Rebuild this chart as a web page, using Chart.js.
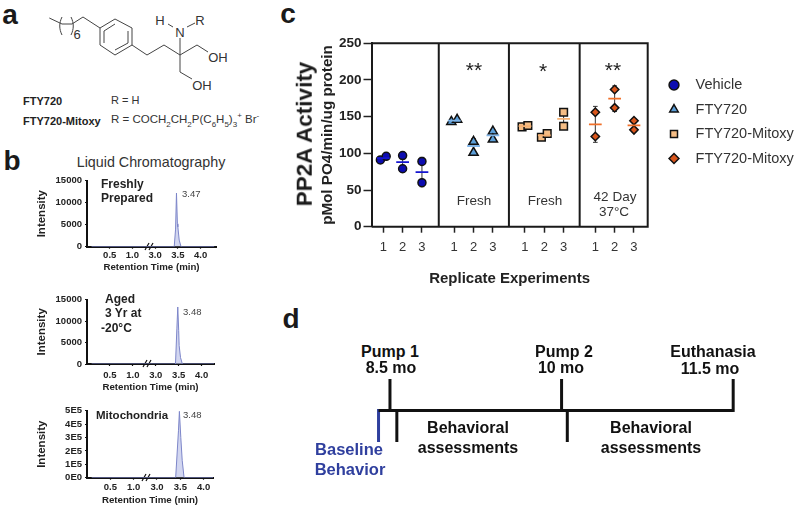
<!DOCTYPE html>
<html>
<head>
<meta charset="utf-8">
<script src="https://cdn.jsdelivr.net/npm/chart.js@4"></script>
<style>
  html, body { margin: 0; padding: 0; background: #fff; }
  #page { position: relative; width: 800px; height: 509px; overflow: hidden; font-family: "Liberation Sans", Arial, sans-serif; color: #222; }
  #page canvas { position: absolute; }
  #page svg { position: absolute; left: 0; top: 0; }
  .t { position: absolute; white-space: nowrap; transform: translate(-50%, -50%); line-height: 1; }
  .l { position: absolute; white-space: nowrap; transform: translateY(-50%); line-height: 1; }
  .b { font-weight: bold; }
  .panel { font-weight: bold; font-size: 28px; color: #1a1a1a; }
  .rot { transform: translate(-50%, -50%) rotate(-90deg); }
  .mini { font-weight: bold; font-size: 11.5px; }
  .peak { font-size: 9.5px; color: #444; }
  .time { font-weight: bold; font-size: 16px; color: #111; }
  .base { color: #2f3f9e; }
  .note { font-size: 13.5px; color: #333; }
  .star { font-size: 21px; color: #222; }
  .chem { font-size: 13px; color: #333; }
  sub, sup { font-size: 8px; line-height: 0; }
</style>
</head>
<body>
<div id="page">
  <div class="t panel" style="left:10px;top:15px">a</div>
  <div class="t panel" style="left:12px;top:161px">b</div>
  <div class="t panel" style="left:288px;top:14px">c</div>
  <div class="t panel" style="left:291px;top:319px">d</div>

  <svg width="260" height="509" fill="none">
    <g stroke="#444" stroke-width="1">
      <path d="M49.3 18L62 24L72 24L83 17L100 28M100 28L115 19L132 28V45L115 55L100 45Z"/>
      <path d="M104 31L115 24M128 31V43M115 50L128 43M104 31V43"/>
      <path d="M132 45L147 55L164 45L180 55L197 45L208 52M180 55V38M180 55V72L192 79M168 24L173 27M187 27L195 23"/>
      <path d="M62 17C59 23 59 29 62 35M71 17C74 23 74 29 71 35"/>
    </g>
    <g stroke="#111" stroke-width="1.2">
      <path d="M145 250L149 243M149 250L153 243"/>
      <path d="M143 367L147 360M147 367L151 360"/>
      <path d="M142 481L146 474M146 481L150 474"/>
    </g>
  </svg>
  <div class="t" style="left:77px;top:34px;font-size:13px;color:#333">6</div>
  <div class="t chem" style="left:160px;top:20px">H</div>
  <div class="t chem" style="left:180px;top:32px">N</div>
  <div class="t chem" style="left:200px;top:20px">R</div>
  <div class="t chem" style="left:218px;top:57px">OH</div>
  <div class="t chem" style="left:202px;top:85px">OH</div>
  <div class="l b" style="left:23px;top:101px;font-size:11px">FTY720</div>
  <div class="l" style="left:111px;top:100px;font-size:11px;color:#333">R = H</div>
  <div class="l b" style="left:23px;top:121px;font-size:11px">FTY720-Mitoxy</div>
  <div class="l" style="left:111px;top:120px;font-size:11.5px;color:#333">R = COCH<sub>2</sub>CH<sub>2</sub>P(C<sub>6</sub>H<sub>5</sub>)<sub>3</sub><sup>+</sup> Br<sup>-</sup></div>

  <div class="t" style="left:151px;top:162px;font-size:14.3px;color:#333">Liquid Chromatography</div>

  <canvas id="lcFresh" width="205" height="103" style="left:29px;top:172px;width:205px;height:103px"></canvas>
  <canvas id="lcAged" width="205" height="104" style="left:29px;top:291px;width:205px;height:104px"></canvas>
  <canvas id="lcMito" width="205" height="106" style="left:29px;top:402px;width:205px;height:106px"></canvas>

  <div class="l mini" style="left:101px;top:184px;font-size:12px">Freshly</div>
  <div class="l mini" style="left:101px;top:198px;font-size:12px">Prepared</div>
  <div class="l mini" style="left:105px;top:299px;font-size:12px">Aged</div>
  <div class="l mini" style="left:105px;top:313px;font-size:12px">3 Yr at</div>
  <div class="l mini" style="left:101px;top:328px;font-size:12px">-20°C</div>
  <div class="l mini" style="left:96px;top:416px">Mitochondria</div>
  <div class="l peak" style="left:182px;top:194px">3.47</div>
  <div class="l peak" style="left:183px;top:312px">3.48</div>
  <div class="l peak" style="left:183px;top:415px">3.48</div>

  <canvas id="pp2a" width="520" height="265" style="left:280px;top:30px;width:520px;height:265px"></canvas>
  <div class="t b rot" style="left:305px;top:134px;font-size:22.5px;color:#1a1a1a">PP2A Activity</div>
  <div class="t star" style="left:474px;top:69px">**</div>
  <div class="t star" style="left:543px;top:70px">*</div>
  <div class="t star" style="left:613px;top:69px">**</div>
  <div class="t note" style="left:474px;top:201px">Fresh</div>
  <div class="t note" style="left:545px;top:201px">Fresh</div>
  <div class="t note" style="left:615px;top:197px">42 Day</div>
  <div class="t note" style="left:614px;top:212px">37°C</div>

  <canvas id="timeline" width="390" height="80" style="left:360px;top:370px;width:390px;height:80px"></canvas>
  <div class="t time" style="left:390px;top:352px">Pump 1</div>
  <div class="t time" style="left:391px;top:368px">8.5 mo</div>
  <div class="t time" style="left:564px;top:352px">Pump 2</div>
  <div class="t time" style="left:561px;top:368px">10 mo</div>
  <div class="t time" style="left:713px;top:352px">Euthanasia</div>
  <div class="t time" style="left:710px;top:369px">11.5 mo</div>
  <div class="t time" style="left:468px;top:428px">Behavioral</div>
  <div class="t time" style="left:468px;top:448px">assessments</div>
  <div class="t time" style="left:651px;top:428px">Behavioral</div>
  <div class="t time" style="left:651px;top:448px">assessments</div>
  <div class="t time base" style="left:349px;top:449px;font-size:16.5px">Baseline</div>
  <div class="t time base" style="left:350px;top:469px;font-size:16.5px">Behavior</div>
</div>

<script>
// panel c: x positions follow the four boxed groups of replicates 1 2 3
const xTickPos = [1, 2, 3, 4.67, 5.67, 6.67, 8.33, 9.33, 10.33, 11.97, 12.97, 13.97];
const xTickLabels = ['1', '2', '3', '1', '2', '3', '1', '2', '3', '1', '2', '3'];
const dividers = [3.87, 7.5, 11.16];
const seriesNames = ['Vehicle', 'FTY720', 'FTY720-Mitoxy', 'FTY720-Mitoxy'];

const vehicleX = [0.85, 1.15, 2, 2, 3, 3];
const vehicleY = [91, 96, 97, 79, 89, 60];
const ftyX = [4.52, 4.82, 5.67, 5.67, 6.67, 6.67];
const ftyY = [143, 146, 116, 101, 130, 119];
const mitoX = [8.18, 8.48, 9.18, 9.48, 10.33, 10.33];
const mitoY = [136, 138, 122, 127, 156, 137];
const mito42X = [11.97, 11.97, 12.97, 12.97, 13.97, 13.97];
const mito42Y = [156, 123, 187, 162, 144.5, 132];

// mean lines and error bars, one entry per replicate tick
const meanY = [93.5, 88, 74.5, 144.5, 110, 124.5, 137, 124.5, 147, 139.5, 174.5, 138];
const errY = [0, 9, 20, 0, 10, 8, 0, 0, 13, 24.5, 17.5, 9];
const meanColors = ['#1515d0', '#7fb4e8', '#f6b173', '#f0702a'];

// panel b traces, retention time (min) against intensity
const freshT = [0.1, 3.42, 3.45, 3.47, 3.49, 3.5, 3.53, 3.57, 4.3];
const freshI = [0, 0, 4000, 12200, 5200, 4500, 1500, 0, 0];
const agedT = [0.1, 3.43, 3.46, 3.48, 3.5, 3.51, 3.54, 3.58, 4.3];
const agedI = [0, 0, 8200, 13300, 7800, 4300, 1500, 0, 0];
const mitoT = [0.1, 3.4, 3.46, 3.48, 3.51, 3.54, 3.58, 4.3];
const mitoI = [0, 0, 350000, 495000, 300000, 130000, 0, 0];
const lcXTicks = [0.5, 1, 3, 3.5, 4];
const breakGap = 1.5; // axis jumps from 1.5 to 3.0 min

// panel d, months
const pumps = [8.5, 10, 11.5];
const assessStarts = [8.56, 10.05];
const baselineAt = 8.4;

Chart.defaults.font.family = '"Liberation Sans", Arial, sans-serif';
Chart.defaults.animation = false;
Chart.defaults.responsive = false;

function pairs(xs, ys) { return xs.map((x, i) => ({ x: x, y: ys[i] })); }

function markerSet(label, xs, ys, style, fill, radius) {
  return {
    label: label, data: pairs(xs, ys), showLine: false, pointStyle: style,
    pointRadius: radius, backgroundColor: fill, pointBackgroundColor: fill,
    borderColor: '#111', pointBorderColor: '#111', pointBorderWidth: 1.5, order: 2
  };
}

function meanSet(i0, color) {
  const pts = [];
  for (let i = i0; i < i0 + 3; i++) {
    pts.push({ x: xTickPos[i] - 0.33, y: meanY[i] }, { x: xTickPos[i] + 0.33, y: meanY[i] }, { x: null, y: null });
  }
  return { data: pts, showLine: true, pointRadius: 0, borderColor: color, borderWidth: 1.8, spanGaps: false, order: 1 };
}

function errSet() {
  const pts = [];
  xTickPos.forEach((x, i) => {
    if (!errY[i]) return;
    const lo = meanY[i] - errY[i], hi = meanY[i] + errY[i];
    pts.push({ x: x, y: lo }, { x: x, y: hi }, { x: null, y: null });
    pts.push({ x: x - 0.12, y: lo }, { x: x + 0.12, y: lo }, { x: null, y: null });
    pts.push({ x: x - 0.12, y: hi }, { x: x + 0.12, y: hi }, { x: null, y: null });
  });
  return { data: pts, showLine: true, pointRadius: 0, borderColor: '#333', borderWidth: 1, spanGaps: false, order: 3 };
}

const framePlugin = {
  id: 'frame',
  afterLayout(chart) {
    // legend sits outside the plot, right of the frame
    const lg = chart.legend;
    lg.left = 377.75; lg.right = 520; lg.top = 37.75; lg.bottom = 160;
  },
  afterDatasetsDraw(chart) {
    const { ctx, chartArea: a, scales } = chart;
    ctx.save();
    ctx.strokeStyle = '#1a1a1a';
    ctx.lineWidth = 2;
    ctx.beginPath();
    ctx.moveTo(a.left, a.top); ctx.lineTo(a.right, a.top); ctx.lineTo(a.right, a.bottom); ctx.lineTo(a.left, a.bottom);
    dividers.forEach(d => {
      const px = scales.x.getPixelForValue(d);
      ctx.moveTo(px, a.top); ctx.lineTo(px, a.bottom);
    });
    ctx.stroke();
    ctx.restore();
  }
};

new Chart(document.getElementById('pp2a'), {
  type: 'scatter',
  plugins: [framePlugin],
  data: {
    datasets: [
      markerSet(seriesNames[0], vehicleX, vehicleY, 'circle', '#0c0cb0', 4),
      markerSet(seriesNames[1], ftyX, ftyY, 'triangle', '#5b9ed8', 5.3),
      markerSet(seriesNames[2], mitoX, mitoY, 'rect', '#f5bd85', 5.4),
      markerSet(seriesNames[3], mito42X, mito42Y, 'rectRot', '#d9561c', 4.2),
      meanSet(0, meanColors[0]), meanSet(3, meanColors[1]), meanSet(6, meanColors[2]), meanSet(9, meanColors[3]),
      errSet()
    ]
  },
  options: {
    layout: { padding: { left: 0, top: 13.3, right: 152.3, bottom: 0 } },
    plugins: {
      tooltip: { enabled: false },
      legend: {
        position: 'chartArea', align: 'start',
        labels: {
          usePointStyle: true, boxWidth: 12.5, boxHeight: 7, padding: 10,
          color: '#333', font: { size: 14.5 },
          generateLabels: chart => Chart.defaults.plugins.legend.labels.generateLabels(chart)
            .filter(item => !!item.text)
            .map(item => ({ ...item, text: '\u00a0\u00a0' + item.text }))
        }
      }
    },
    scales: {
      x: {
        type: 'linear', min: 0.39, max: 14.68,
        afterBuildTicks(s) { s.ticks = xTickPos.map(v => ({ value: v })); },
        afterFit(s) { s.height = 68.3; },
        grid: { drawOnChartArea: false, tickLength: 6, tickWidth: 1.5, tickColor: '#222' },
        border: { display: false },
        ticks: {
          autoSkip: false, maxRotation: 0, color: '#333', padding: 7, font: { size: 13 },
          callback: (v, i) => xTickLabels[i]
        },
        title: { display: true, text: 'Replicate Experiments', color: '#222', font: { size: 15, weight: 'bold' }, padding: { top: 0, bottom: 7 } }
      },
      y: {
        min: 0, max: 250,
        afterFit(s) { s.width = 91.5; },
        grid: { drawOnChartArea: false, tickLength: 8, tickWidth: 1.5, tickColor: '#222' },
        border: { display: true, color: '#1a1a1a', width: 2 },
        ticks: { stepSize: 50, color: '#222', padding: 2, font: { size: 13.5, weight: 'bold' } },
        title: { display: true, text: 'pMol PO4/min/ug protein', color: '#222', font: { size: 15.2, weight: 'bold' }, padding: { top: 39, bottom: 0 } }
      }
    }
  }
});

// x axis of panel b is broken, the 1.5 to 3.0 min stretch is cut out
function brokenX(t) { return t <= 1.5 ? t : t - breakGap; }

function lcChart(id, ts, vals, yMax, yStep, yFmt, opt) {
  new Chart(document.getElementById(id), {
    type: 'line',
    data: {
      datasets: [{
        data: ts.map((t, i) => ({ x: brokenX(t), y: vals[i] })),
        borderColor: '#7d86c9', borderWidth: 1, backgroundColor: 'rgba(180,186,230,0.6)',
        fill: 'origin', pointRadius: 0, tension: 0
      }]
    },
    options: {
      layout: { padding: { top: 7, right: 205 - (opt.xEnd - 29), left: 0, bottom: 0 } },
      plugins: { legend: { display: false }, tooltip: { enabled: false } },
      scales: {
        x: {
          type: 'linear', min: 0, max: opt.xMax,
          afterBuildTicks(s) { s.ticks = lcXTicks.map(t => ({ value: brokenX(t) })); },
          afterFit(s) { s.height = opt.xHeight; },
          grid: { drawOnChartArea: false, tickLength: 2, tickWidth: 1.2, tickColor: '#111' },
          border: { display: true, color: '#111', width: 2 },
          ticks: {
            autoSkip: false, maxRotation: 0, color: '#222', padding: opt.tickPad, font: { size: 9.5, weight: 'bold' },
            callback: (v, i) => lcXTicks[i].toFixed(1)
          },
          title: { display: true, text: 'Retention Time (min)', color: '#222', font: { size: 9.7, weight: 'bold' }, padding: { top: 0, bottom: 1.5 } }
        },
        y: {
          min: 0, max: yMax,
          afterFit(s) { s.width = 58; },
          grid: { drawOnChartArea: false, tickLength: 2, tickWidth: 1.2, tickColor: '#111' },
          border: { display: true, color: '#111', width: 2 },
          ticks: { stepSize: yStep, autoSkip: false, color: '#222', padding: 3, font: { size: 9.5, weight: 'bold' }, callback: yFmt },
          title: { display: true, text: 'Intensity', color: '#222', font: { size: 11.5, weight: 'bold' }, padding: { top: 6, bottom: 0 } }
        }
      }
    }
  });
}

const plainFmt = v => String(v);
const sciFmt = v => (v / 100000) + 'E' + (v === 0 ? 0 : 5);
lcChart('lcFresh', freshT, freshI, 15000, 5000, plainFmt, { xEnd: 216, xMax: 2.84, xHeight: 28.3, tickPad: 1 });
lcChart('lcAged', agedT, agedI, 15000, 5000, plainFmt, { xEnd: 214, xMax: 2.77, xHeight: 31, tickPad: 4 });
lcChart('lcMito', mitoT, mitoI, 500000, 100000, sciFmt, { xEnd: 213, xMax: 2.7, xHeight: 30.3, tickPad: 2 });

// panel d
function stem(x, y0, y1, color) {
  return { data: [{ x: x, y: y0 }, { x: x, y: y1 }], borderColor: color, borderWidth: 3, pointRadius: 0, borderCapStyle: 'square' };
}

new Chart(document.getElementById('timeline'), {
  type: 'scatter',
  data: {
    datasets: [
      { data: [{ x: baselineAt, y: 0 }, { x: pumps[2], y: 0 }], showLine: true, borderColor: '#111', borderWidth: 3, pointRadius: 0 },
      ...pumps.map(p => ({ ...stem(p, 0, 1, '#111'), showLine: true })),
      ...assessStarts.map(p => ({ ...stem(p, 0, -1, '#111'), showLine: true })),
      { ...stem(baselineAt, 0, -1, '#2f3f9e'), showLine: true }
    ]
  },
  options: {
    layout: { padding: 0 },
    plugins: { legend: { display: false }, tooltip: { enabled: false } },
    scales: {
      x: { type: 'linear', display: false, min: 8.238, max: 11.647 },
      y: { display: false, min: -1.32, max: 1.35 }
    }
  }
});
</script>
</body>
</html>
